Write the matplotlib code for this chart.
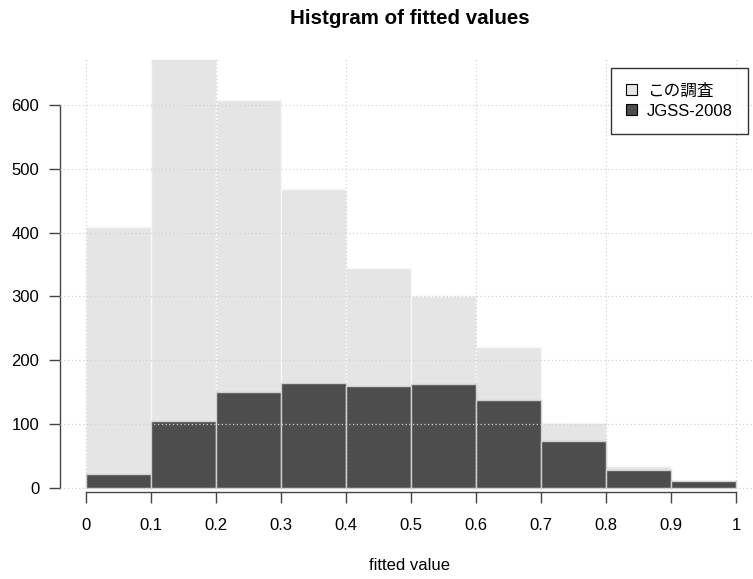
import matplotlib
matplotlib.use("Agg")
import matplotlib.pyplot as plt
from matplotlib.patches import Patch

plt.rcParams['font.family'] = ['Liberation Sans', 'Noto Sans CJK JP']

# bin edges and counts
bin_left = [0.0, 0.1, 0.2, 0.3, 0.4, 0.5, 0.6, 0.7, 0.8, 0.9]
survey_counts = [409, 672, 608, 468, 345, 301, 221, 101, 34, 10]
jgss_counts = [22, 104, 150, 164, 160, 163, 137, 73, 27, 11]
x_ticks = [0, 0.1, 0.2, 0.3, 0.4, 0.5, 0.6, 0.7, 0.8, 0.9, 1.0]
x_tick_labels = ["0", "0.1", "0.2", "0.3", "0.4", "0.5", "0.6", "0.7", "0.8", "0.9", "1"]
y_ticks = [0, 100, 200, 300, 400, 500, 600]
legend_labels = ["この調査", "JGSS-2008"]

light = "#e5e5e5"
dark = "#4d4d4d"

fig = plt.figure(figsize=(7.53, 5.79), dpi=100)
ax = fig.add_axes([60/753, (579-492)/579, 693/753, 432.7/579])

ax.bar(bin_left, survey_counts, width=0.1, align='edge', color=light,
       edgecolor='#f7f7f7', linewidth=1, zorder=1)
ax.bar(bin_left, jgss_counts, width=0.1, align='edge', color=dark,
       edgecolor='#d0d0d0', linewidth=1, zorder=2)

# dotted grid drawn over the bars, like grid() in R
for gx in x_ticks[::2]:
    ax.axvline(gx, color='#d3d3d3', linestyle=(0, (1, 2)), linewidth=0.9, zorder=3)
for gy in y_ticks:
    ax.axhline(gy, color='#d3d3d3', linestyle=(0, (1, 2)), linewidth=0.9, zorder=3)

ax.set_xlim(-0.04, 1.026)
ax.set_ylim(-7, 672)

for s in ['top', 'right']:
    ax.spines[s].set_visible(False)
ax.spines['left'].set_bounds(0, 600)
ax.spines['bottom'].set_bounds(0, 1)
for s in ['left', 'bottom']:
    ax.spines[s].set_color('#444444')
    ax.spines[s].set_linewidth(1)

ax.set_xticks(x_ticks)
ax.set_xticklabels(x_tick_labels)
ax.set_yticks(y_ticks)
ax.tick_params(axis='both', direction='out', length=8, width=1, color='#444444',
               labelsize=12, labelcolor='black')
ax.tick_params(axis='x', pad=10.5)
ax.tick_params(axis='y', pad=7)

handles = [Patch(facecolor=light, edgecolor='black', linewidth=0.8),
           Patch(facecolor=dark, edgecolor='black', linewidth=0.8)]
leg = ax.legend(handles, legend_labels, loc='upper right', bbox_to_anchor=(0.993, 0.979),
                borderaxespad=0, fontsize=12, frameon=True, fancybox=False,
                handlelength=0.66, handleheight=0.6, handletextpad=0.6,
                labelspacing=0.3, borderpad=0.9)
leg.get_frame().set_edgecolor('black')
leg.get_frame().set_linewidth(1)
leg.set_zorder(5)

fig.text(410/753, 1 - 18/579, "Histgram of fitted values", ha='center', va='center',
         fontsize=14.8, fontweight='bold')
fig.text(410/753, 1 - 566/579, "fitted value", ha='center', va='center', fontsize=12)

fig.savefig("out.png", dpi=100)
